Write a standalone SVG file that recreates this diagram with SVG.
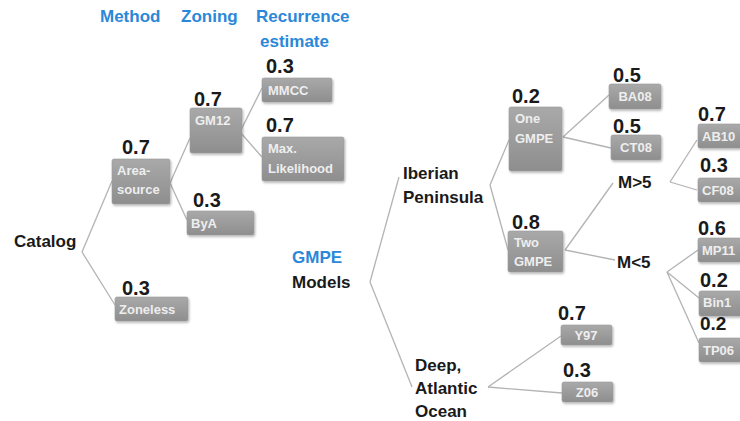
<svg xmlns="http://www.w3.org/2000/svg" width="740" height="421" viewBox="0 0 740 421">
<defs>
<linearGradient id="g" x1="0" y1="0" x2="0" y2="1">
<stop offset="0" stop-color="#a9a9a9"/>
<stop offset="1" stop-color="#8e8e8e"/>
</linearGradient>
<filter id="sh" x="-10%" y="-10%" width="130%" height="140%">
<feDropShadow dx="1" dy="1.5" stdDeviation="1" flood-color="#000" flood-opacity="0.3"/>
</filter>
<style>
.box{fill:url(#g);stroke:#9a9a9a;stroke-width:0.6;filter:url(#sh)}
.bt{font-family:"Liberation Sans",Arial,sans-serif;font-weight:bold;font-size:13px;fill:#eeeeee}
.btc{text-anchor:middle}
.num{font-family:"Liberation Sans",Arial,sans-serif;font-weight:bold;font-size:20px;fill:#1a1a1a}
.lab{font-family:"Liberation Sans",Arial,sans-serif;font-weight:bold;font-size:17px;fill:#1a1a1a}
.hd{font-family:"Liberation Sans",Arial,sans-serif;font-weight:bold;font-size:17px;fill:#2b88d8}
.cn line{stroke:#b3b3b3;stroke-width:1.3}
</style>
</defs>
<rect width="740" height="421" fill="#ffffff"/>

<g id="headers">
<text class="hd" x="100" y="22">Method</text>
<text class="hd" x="181" y="22">Zoning</text>
<text class="hd" x="256" y="22">Recurrence</text>
<text class="hd" x="260" y="47">estimate</text>
</g>

<g id="connectors" class="cn">
<line x1="82" y1="252" x2="112" y2="181"/>
<line x1="82" y1="252" x2="115" y2="305"/>
<line x1="170" y1="183" x2="190" y2="138"/>
<line x1="170" y1="183" x2="187" y2="220"/>
<line x1="240" y1="132" x2="262" y2="88"/>
<line x1="240" y1="132" x2="262" y2="157"/>
<line x1="370" y1="282" x2="399" y2="177"/>
<line x1="370" y1="282" x2="412" y2="387"/>
<line x1="490" y1="185" x2="509" y2="140"/>
<line x1="490" y1="185" x2="508" y2="250"/>
<line x1="563" y1="137" x2="609" y2="95"/>
<line x1="563" y1="137" x2="611" y2="148"/>
<line x1="565" y1="250" x2="613" y2="183"/>
<line x1="565" y1="250" x2="615" y2="260"/>
<line x1="670" y1="182" x2="697" y2="140"/>
<line x1="670" y1="182" x2="697" y2="190"/>
<line x1="667" y1="272" x2="698" y2="250"/>
<line x1="667" y1="272" x2="699" y2="298"/>
<line x1="667" y1="272" x2="699" y2="343"/>
<line x1="488" y1="387" x2="561" y2="336"/>
<line x1="488" y1="387" x2="562" y2="393"/>
</g>

<g id="catalog"><text class="lab" x="14" y="247">Catalog</text></g>

<g id="area-source">
<text class="num" x="122" y="154">0.7</text>
<rect class="box" x="112" y="159" width="58" height="45" rx="2"/>
<text class="bt" x="117" y="175">Area-</text>
<text class="bt" x="117" y="194">source</text>
</g>
<g id="zoneless">
<text class="num" x="122" y="295">0.3</text>
<rect class="box" x="115" y="297" width="73" height="24" rx="2"/>
<text class="bt" x="119" y="314">Zoneless</text>
</g>
<g id="gm12">
<text class="num" x="194" y="106">0.7</text>
<rect class="box" x="190" y="108" width="52" height="45" rx="2"/>
<text class="bt" x="195" y="125">GM12</text>
</g>
<g id="bya">
<text class="num" x="193" y="207">0.3</text>
<rect class="box" x="187" y="211" width="67" height="24" rx="2"/>
<text class="bt" x="191" y="228">ByA</text>
</g>
<g id="mmcc">
<text class="num" x="266" y="73">0.3</text>
<rect class="box" x="262" y="78" width="70" height="24" rx="2"/>
<text class="bt" x="268" y="95">MMCC</text>
</g>
<g id="maxlik">
<text class="num" x="266" y="132">0.7</text>
<rect class="box" x="262" y="137" width="82" height="44" rx="2"/>
<text class="bt" x="268" y="153">Max.</text>
<text class="bt" x="268" y="173">Likelihood</text>
</g>

<g id="gmpe-models">
<text class="hd" x="292" y="263">GMPE</text>
<text class="lab" x="292" y="288">Models</text>
</g>
<g id="iberian">
<text class="lab" x="403" y="179">Iberian</text>
<text class="lab" x="403" y="203">Peninsula</text>
</g>
<g id="deep">
<text class="lab" x="415" y="371">Deep,</text>
<text class="lab" x="415" y="394">Atlantic</text>
<text class="lab" x="415" y="417">Ocean</text>
</g>
<g id="one-gmpe">
<text class="num" x="512" y="103">0.2</text>
<rect class="box" x="509" y="107" width="53" height="64" rx="2"/>
<text class="bt" x="515" y="123">One</text>
<text class="bt" x="515" y="143">GMPE</text>
</g>
<g id="two-gmpe">
<text class="num" x="512" y="229">0.8</text>
<rect class="box" x="508" y="231" width="55" height="41" rx="2"/>
<text class="bt" x="514" y="247">Two</text>
<text class="bt" x="514" y="266">GMPE</text>
</g>
<g id="ba08">
<text class="num" x="613" y="82">0.5</text>
<rect class="box" x="609" y="84" width="52" height="25" rx="2"/>
<text class="bt btc" x="635" y="101">BA08</text>
</g>
<g id="ct08">
<text class="num" x="613" y="133">0.5</text>
<rect class="box" x="611" y="135" width="50" height="25" rx="2"/>
<text class="bt btc" x="636" y="152">CT08</text>
</g>
<g id="m-gt5"><text class="lab" x="618" y="188">M&gt;5</text></g>
<g id="m-lt5"><text class="lab" x="617" y="268">M&lt;5</text></g>
<g id="ab10">
<text class="num" x="698" y="121">0.7</text>
<rect class="box" x="698" y="124" width="50" height="24" rx="2"/>
<text class="bt" x="702" y="141">AB10</text>
</g>
<g id="cf08">
<text class="num" x="700" y="172">0.3</text>
<rect class="box" x="698" y="178" width="50" height="24" rx="2"/>
<text class="bt" x="702" y="195">CF08</text>
</g>
<g id="mp11">
<text class="num" x="698" y="235">0.6</text>
<rect class="box" x="698" y="238" width="50" height="24" rx="2"/>
<text class="bt" x="702" y="255">MP11</text>
</g>
<g id="bin1">
<text class="num" x="700" y="287">0.2</text>
<rect class="box" x="699" y="291" width="50" height="25" rx="2"/>
<text class="bt" x="703" y="307">Bin1</text>
</g>
<g id="tp06">
<text class="num" x="700" y="330" style="font-size:19px">0.2</text>
<rect class="box" x="699" y="338" width="50" height="24" rx="2"/>
<text class="bt" x="703" y="355">TP06</text>
</g>
<g id="y97">
<text class="num" x="558" y="320">0.7</text>
<rect class="box" x="561" y="325" width="51" height="20" rx="2"/>
<text class="bt btc" x="586" y="340">Y97</text>
</g>
<g id="z06">
<text class="num" x="563" y="377">0.3</text>
<rect class="box" x="562" y="382" width="51" height="20" rx="2"/>
<text class="bt btc" x="587" y="397">Z06</text>
</g>
</svg>
